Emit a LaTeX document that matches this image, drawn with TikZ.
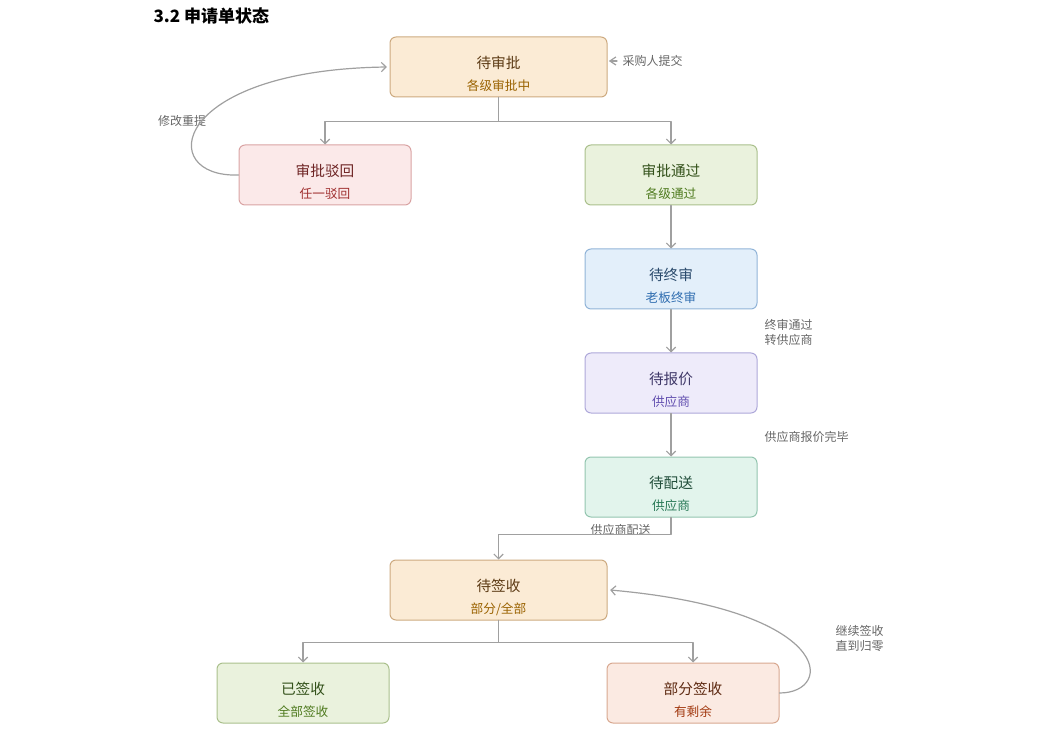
\documentclass[tikz,border=0pt]{standalone}
\usepackage{fontspec}
\setmainfont{Noto Sans CJK SC}
\usetikzlibrary{arrows.meta}
\definecolor{peachF}{HTML}{FBEBD5}\definecolor{peachD}{HTML}{CDAA80}\definecolor{peachT}{HTML}{5C3A14}\definecolor{peachS}{HTML}{9A6200}
\definecolor{redF}{HTML}{FBE9E9}\definecolor{redD}{HTML}{D9A3A3}\definecolor{redT}{HTML}{6E2424}\definecolor{redS}{HTML}{A03030}
\definecolor{greenF}{HTML}{EAF2DD}\definecolor{greenD}{HTML}{AAC08C}\definecolor{greenT}{HTML}{33511A}\definecolor{greenS}{HTML}{4E7A1E}
\definecolor{blueF}{HTML}{E3EFFA}\definecolor{blueD}{HTML}{91B4D8}\definecolor{blueT}{HTML}{2A4A6C}\definecolor{blueS}{HTML}{2F6DB0}
\definecolor{purpF}{HTML}{EEEBFA}\definecolor{purpD}{HTML}{AEA8D9}\definecolor{purpT}{HTML}{3F3868}\definecolor{purpS}{HTML}{6350B0}
\definecolor{tealF}{HTML}{E2F4EC}\definecolor{tealD}{HTML}{93C5AF}\definecolor{tealT}{HTML}{234F3C}\definecolor{tealS}{HTML}{2A7A58}
\definecolor{salmF}{HTML}{FBEAE2}\definecolor{salmD}{HTML}{D8A890}\definecolor{salmT}{HTML}{5E2A12}\definecolor{salmS}{HTML}{A33B12}
\definecolor{lineC}{HTML}{A0A0A0}
\definecolor{lblC}{HTML}{666666}
\newcommand{\stlab}[3]{\raisebox{-6.5pt}[\height][\depth]{\begin{tabular}{@{}c@{}}#2\\[3.5pt]{\fontsize{9.5}{11}\selectfont\color{#1}#3}\end{tabular}}}
\begin{document}
\begin{tikzpicture}[x=0.75pt, y=0.75pt, >={Straight Barb[length=3.5pt,width=7pt]}, line join=round, line cap=round]
			\tikzset{
				stbox/.style={draw=#1D, fill=#1F, text=#1T, rounded corners=4.5pt, line width=0.75pt, minimum height=45pt, inner sep=0pt, font=\fontsize{11}{13}\selectfont},
				wide/.style={minimum width=162.75pt},
				narrow/.style={minimum width=129pt},
				conn/.style={draw=lineC, line width=0.9pt},
				lbl/.style={text=lblC, inner sep=1pt, font=\fontsize{9}{11.25}\selectfont}
			}
			\useasboundingbox (0,0) rectangle (1046,733);
			\node[anchor=west, inner sep=1pt, font=\fontsize{12.75}{15}\selectfont\bfseries] (title) at (152,717) {3.2 申请单状态};
			\node[stbox=peach, wide] (dsp) at (498.5,666) {\stlab{peachS}{待审批}{各级审批中}};
			\node[stbox=red, narrow] (bh) at (325,558) {\stlab{redS}{审批驳回}{任一驳回}};
			\node[stbox=green, narrow] (tg) at (671,558) {\stlab{greenS}{审批通过}{各级通过}};
			\node[stbox=blue, narrow] (dzs) at (671,454) {\stlab{blueS}{待终审}{老板终审}};
			\node[stbox=purp, narrow] (dbj) at (671,350) {\stlab{purpS}{待报价}{供应商}};
			\node[stbox=teal, narrow] (dps) at (671,246) {\stlab{tealS}{待配送}{供应商}};
			\node[stbox=peach, wide] (dqs) at (498.5,143) {\stlab{peachS}{待签收}{部分/全部}};
			\node[stbox=green, narrow] (yqs) at (303,40) {\stlab{greenS}{已签收}{全部签收}};
			\node[stbox=salm, narrow] (bfqs) at (693,40) {\stlab{salmS}{部分签收}{有剩余}};
			\path
			(621,672) node[lbl, anchor=west] (tjn) {采购人提交}
			(182,612) node[lbl] (xgct) {修改重提}
			(763,400.5) node[lbl, anchor=west, align=left] (zstg) {终审通过\\转供应商}
			(763,296) node[lbl, anchor=west] (bjwb) {供应商报价完毕}
			(620.5,203) node[lbl] (psn) {供应商配送}
			(834,94.5) node[lbl, anchor=west, align=left] (jxqs) {继续签收\\直到归零}
			;
			\draw[conn,-{Straight Barb[length=4.5pt,width=6pt]}] ([xshift=-3pt]tjn.west) -- ([xshift=1pt]tjn.west -| dsp.east);
			\draw[conn,->] (dsp.south) -- ++(0,-24) -| (bh.north);
			\draw[conn,->] (dsp.south) -- ++(0,-24) -| (tg.north);
			\draw[conn,->] (bh.west) .. controls (155,555) and (170,663) .. ([xshift=-2pt]dsp.west);
			\draw[conn,->] (tg) -- (dzs);
			\draw[conn,->] (dzs) -- (dbj);
			\draw[conn,->] (dbj) -- (dps);
			\draw[conn,->] (dps.south) -- ++(0,-17) -| (dqs.north);
			\draw[conn,->] (dqs.south) -- ++(0,-22) -| (yqs.north);
			\draw[conn,->] (dqs.south) -- ++(0,-22) -| (bfqs.north);
			\draw[conn,->] (bfqs.east) .. controls (835,40) and (835,123) .. ([xshift=2pt]dqs.east);
		\end{tikzpicture}
\end{document}
